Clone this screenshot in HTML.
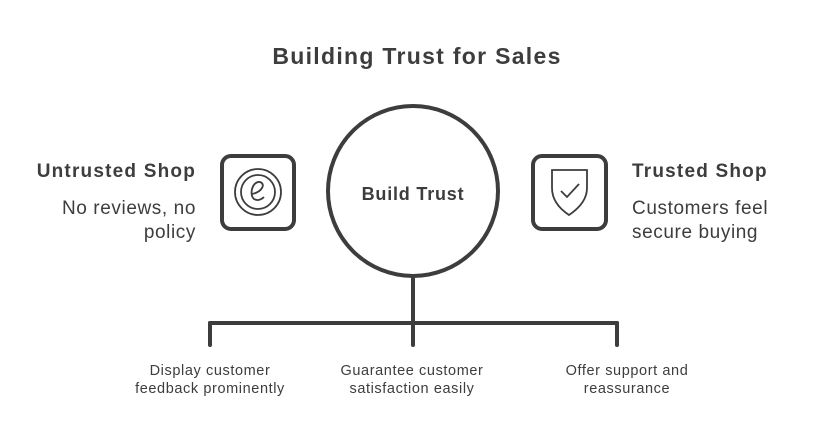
<!DOCTYPE html>
<html><head><meta charset="utf-8"><style>
body{margin:0;background:#fff;}
svg{display:block}
text{font-family:"Liberation Sans",sans-serif;fill:#3d3d3d}
</style></head><body>
<svg width="834" height="434" viewBox="0 0 834 434" xmlns="http://www.w3.org/2000/svg">
<text x="417" y="64" text-anchor="middle" font-size="23" font-weight="bold" letter-spacing="1.3">Building Trust for Sales</text>
<g fill="none" stroke="#3d3d3d" stroke-width="4" stroke-linecap="round">
<circle cx="413" cy="191" r="85"/>
<line x1="413" y1="276" x2="413" y2="345"/>
<line x1="210" y1="323" x2="617" y2="323"/>
<line x1="210" y1="323" x2="210" y2="345"/>
<line x1="617" y1="323" x2="617" y2="345"/>
<rect x="222" y="156" width="72" height="73" rx="9"/>
<rect x="533" y="156" width="73" height="73" rx="9"/>
</g>
<g fill="none" stroke="#3d3d3d" stroke-width="1.8">
<circle cx="258" cy="192" r="23"/>
<circle cx="258" cy="192" r="17"/>
<path d="M252 194 C262 192 266 184 260 182 C252 181 249 195 254 199 C257 201 261 200 264 197"/>
<path d="M552 170 L587 170 L587 188 C587 200 578 209 569 215 C560 209 552 200 552 188 Z"/>
<path d="M561 191 L567 197 L579 184"/>
</g>
<text x="413" y="200" text-anchor="middle" font-size="18" font-weight="bold" letter-spacing="0.8">Build Trust</text>
<text x="196" y="177" text-anchor="end" font-size="19" font-weight="bold" letter-spacing="1.2">Untrusted Shop</text>
<text x="196" y="214" text-anchor="end" font-size="19" letter-spacing="0.6">No reviews, no</text>
<text x="196" y="238" text-anchor="end" font-size="19" letter-spacing="0.6">policy</text>
<text x="632" y="177" font-size="19" font-weight="bold" letter-spacing="1.2">Trusted Shop</text>
<text x="632" y="214" font-size="19" letter-spacing="0.6">Customers feel</text>
<text x="632" y="238" font-size="19" letter-spacing="0.6">secure buying</text>
<g font-size="14.5" text-anchor="middle" letter-spacing="0.6">
<text x="210" y="375">Display customer</text>
<text x="210" y="393">feedback prominently</text>
<text x="412" y="375">Guarantee customer</text>
<text x="412" y="393">satisfaction easily</text>
<text x="627" y="375">Offer support and</text>
<text x="627" y="393">reassurance</text>
</g>
</svg>
</body></html>
